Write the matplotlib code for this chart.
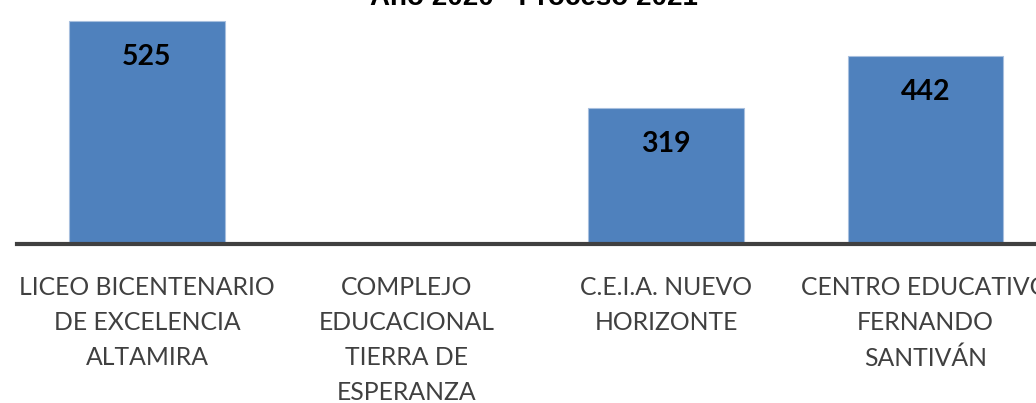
import matplotlib
matplotlib.use("Agg")
import matplotlib.pyplot as plt

categorias = ["LICEO BICENTENARIO\nDE EXCELENCIA\nALTAMIRA",
              "COMPLEJO\nEDUCACIONAL\nTIERRA DE\nESPERANZA",
              "C.E.I.A. NUEVO\nHORIZONTE",
              "CENTRO EDUCATIVO\nFERNANDO\nSANTIVÁN"]
valores = [525, None, 319, 442]
titulo = "Año 2020 - Proceso 2021"

W, H = 1036, 403
fig = plt.figure(figsize=(W / 100, H / 100), dpi=100)
# axes run slightly past the right edge, as in the original
ax = fig.add_axes([17.25 / W, (H - 244) / H, 1038 / W, 244 / H])

x = list(range(len(categorias)))
alturas = [v if v is not None else 0 for v in valores]
ax.bar(x, alturas, width=0.6, color="#4f81bd", edgecolor="#a7bfde", linewidth=0.8)
for xi, v in zip(x, valores):
    if v is None:
        continue
    ax.text(xi, v - 36 / 0.4248, str(v), ha="center", va="center",
            fontsize=20.5, fontweight="bold", family="Lato", color="black")

ax.set_xlim(-0.5, len(categorias) - 0.5)
ax.set_ylim(0, 574)
ax.set_xticks(x)
ax.set_xticklabels(categorias, family="Lato", fontsize=17.8, color="#404040",
                   linespacing=1.64)
ax.tick_params(axis="x", length=0, pad=23)
ax.set_yticks([])
for s in ["top", "right", "left"]:
    ax.spines[s].set_visible(False)
ax.spines["bottom"].set_color("#404040")
ax.spines["bottom"].set_linewidth(3)

fig.text(534 / W, (H - 5) / H, titulo, ha="center", va="baseline",
         fontsize=20, fontweight="bold", family="Liberation Sans")

fig.savefig("out.png", dpi=100)
